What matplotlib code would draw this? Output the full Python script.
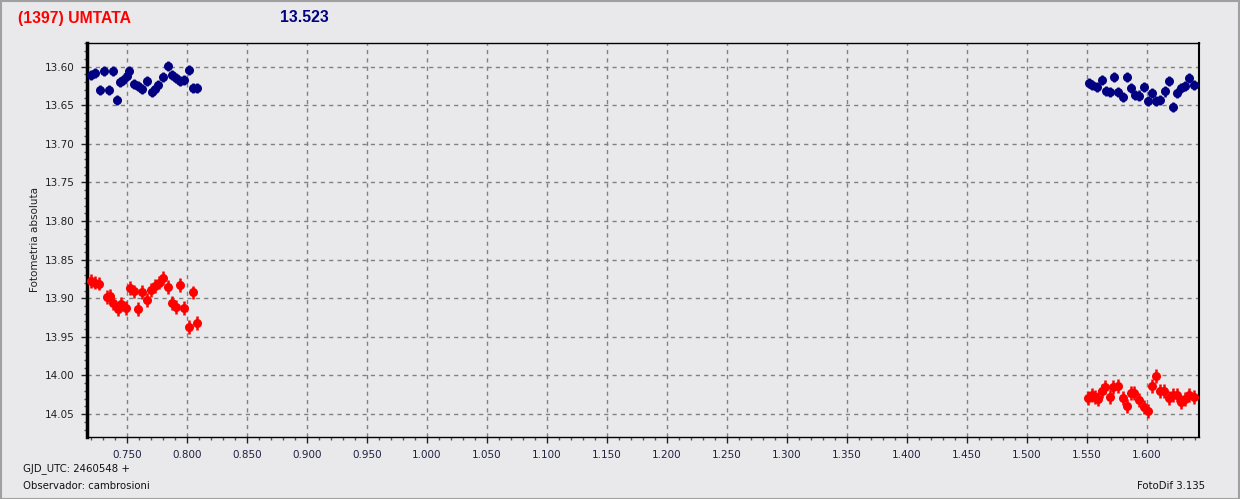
import matplotlib
matplotlib.use("Agg")
import matplotlib.pyplot as plt
from matplotlib.ticker import MultipleLocator, FormatStrFormatter
from matplotlib.patches import Rectangle

# ---- data ----
blue_t1 = [0.7200, 0.7233, 0.7275, 0.7311, 0.7348, 0.7381, 0.7417, 0.7444, 0.7469,
           0.7498, 0.7519, 0.7561, 0.7594, 0.7623, 0.7664, 0.7706, 0.7733, 0.7761,
           0.7798, 0.7844, 0.7878, 0.7908, 0.7942, 0.7978, 0.8017, 0.8053, 0.8081]
blue_m1 = [13.6107, 13.6081, 13.6300, 13.6061, 13.6300, 13.6061, 13.6429, 13.6193, 13.6168,
           13.6125, 13.6061, 13.6223, 13.6245, 13.6287, 13.6180, 13.6331, 13.6287, 13.6236,
           13.6129, 13.5996, 13.6107, 13.6151, 13.6180, 13.6168, 13.6039, 13.6274, 13.6274]
blue_t2 = [1.5517, 1.5544, 1.5581, 1.5623, 1.5656, 1.5692, 1.5725, 1.5756, 1.5798,
           1.5831, 1.5867, 1.5900, 1.5933, 1.5975, 1.6011, 1.6039, 1.6073, 1.6108,
           1.6150, 1.6183, 1.6214, 1.6248, 1.6283, 1.6317, 1.6353, 1.6392]
blue_m2 = [13.6215, 13.6232, 13.6267, 13.6171, 13.6318, 13.6331, 13.6138, 13.6331, 13.6396,
           13.6138, 13.6274, 13.6365, 13.6374, 13.6267, 13.6447, 13.6339, 13.6447, 13.6438,
           13.6322, 13.6180, 13.6524, 13.6344, 13.6274, 13.6245, 13.6146, 13.6236]
red_t1 = [0.7200, 0.7236, 0.7269, 0.7331, 0.7358, 0.7386, 0.7423, 0.7450, 0.7492,
          0.7525, 0.7561, 0.7589, 0.7625, 0.7664, 0.7698, 0.7733, 0.7767, 0.7798,
          0.7844, 0.7878, 0.7906, 0.7942, 0.7975, 0.8017, 0.8048, 0.8081]
red_m1 = [13.8775, 13.8796, 13.8809, 13.8981, 13.8968, 13.9063, 13.9140, 13.9076, 13.9128,
          13.8870, 13.8912, 13.9140, 13.8916, 13.9019, 13.8890, 13.8839, 13.8796, 13.8741,
          13.8852, 13.9067, 13.9110, 13.8831, 13.9128, 13.9376, 13.8925, 13.9321]
red_t2 = [1.5511, 1.5539, 1.5567, 1.5589, 1.5623, 1.5650, 1.5692, 1.5719, 1.5756,
          1.5798, 1.5831, 1.5867, 1.5894, 1.5933, 1.5975, 1.6006, 1.6044, 1.6073,
          1.6108, 1.6144, 1.6183, 1.6219, 1.6248, 1.6283, 1.6317, 1.6353, 1.6392]
red_m2 = [14.0295, 14.0253, 14.0282, 14.0304, 14.0197, 14.0153, 14.0282, 14.0153, 14.0140,
          14.0295, 14.0390, 14.0231, 14.0227, 14.0313, 14.0403, 14.0455, 14.0140, 14.0004,
          14.0197, 14.0197, 14.0295, 14.0253, 14.0253, 14.0339, 14.0304, 14.0253, 14.0282]
blue_err = 0.0065
red_err = 0.009

title_name = "(1397) UMTATA"
title_mag = "13.523"
ylabel = "Fotometria absoluta"
foot_gjd = "GJD_UTC: 2460548 +"
foot_obs = "Observador: cambrosioni"
foot_sw = "FotoDif 3.135"

BG = "#e9e9eb"
W, H = 1240, 499
fig = plt.figure(figsize=(W / 100, H / 100), dpi=100, facecolor=BG)
ax = fig.add_axes([86.7 / W, 1 - 437 / H, (1199 - 86.7) / W, (437 - 42.7) / H])
ax.set_facecolor(BG)

ax.set_xlim(0.7164, 1.6433)
ax.set_ylim(14.0797, 13.5690)

ax.grid(True, which="major", color="#808080", linestyle=(0, (3, 3)), linewidth=1)
ax.set_axisbelow(True)
ax.xaxis.set_major_locator(MultipleLocator(0.05))
ax.xaxis.set_minor_locator(MultipleLocator(0.01))
ax.yaxis.set_major_locator(MultipleLocator(0.05))
ax.yaxis.set_minor_locator(MultipleLocator(0.01))
ax.xaxis.set_major_formatter(FormatStrFormatter("%.3f"))
ax.yaxis.set_major_formatter(FormatStrFormatter("%.2f"))
ax.tick_params(which="major", length=4, width=1, labelsize=7.5, colors="#222222", pad=5)
ax.tick_params(which="minor", length=2.5, width=1, colors="#555555")
ax.tick_params(axis="x", labelcolor="#202040")
ax.tick_params(axis="y", labelcolor="#202020")

for s in ax.spines.values():
    s.set_color("black")
    s.set_linewidth(1)
ax.spines["left"].set_linewidth(2.5)
ax.spines["right"].set_linewidth(1.5)

for t, m, e, c in [(blue_t1, blue_m1, blue_err, "#000080"), (blue_t2, blue_m2, blue_err, "#000080"),
                   (red_t1, red_m1, red_err, "#ff0000"), (red_t2, red_m2, red_err, "#ff0000")]:
    ax.errorbar(t, m, yerr=e, fmt="o", color=c, ecolor=c, markersize=6.5,
                elinewidth=1.8, capsize=0, markeredgewidth=0, zorder=3)

fig.text(35 / W, 1 - 240 / H, ylabel, rotation=90, ha="center", va="center",
         fontsize=7.5, color="#222222")

fig.text(18 / W, 1 - 18 / H, title_name, ha="left", va="center", fontsize=11.3,
         fontweight="bold", color="#ff0000", family="Liberation Sans")
fig.text(280 / W, 1 - 18 / H, title_mag, ha="left", va="center", fontsize=11.3,
         fontweight="bold", color="#000080", family="Liberation Sans")

fig.text(23 / W, 1 - 469 / H, foot_gjd, ha="left", va="center", fontsize=7.3, color="#111111")
fig.text(23 / W, 1 - 486 / H, foot_obs, ha="left", va="center", fontsize=7.3, color="#111111")
fig.text(1205 / W, 1 - 486 / H, foot_sw, ha="right", va="center", fontsize=7.3, color="#111111")

fig.patches.append(Rectangle((0.5 / W, 0.5 / H), 1 - 1.5 / W, 1 - 1.5 / H, transform=fig.transFigure,
                             fill=False, edgecolor="#a0a0a0", linewidth=1.5))

fig.savefig("out.png", dpi=100, facecolor=BG)
